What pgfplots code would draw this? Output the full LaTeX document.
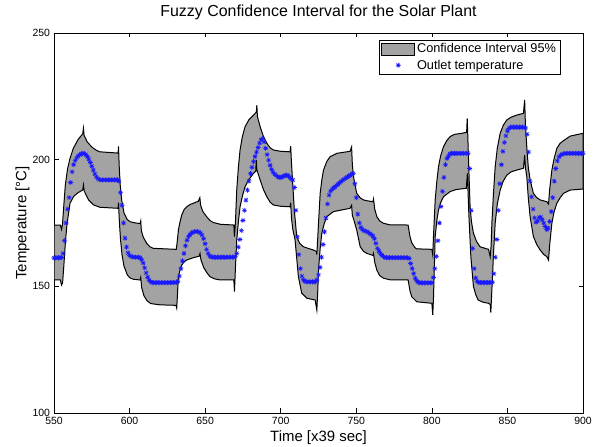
\documentclass[border=0pt]{standalone}
\usepackage{fontspec}
\setmainfont{Liberation Sans}
\usepackage{pgfplots}
\usepackage{pgfplotstable}
\pgfplotsset{compat=1.18}
\usepgfplotslibrary{fillbetween}
\definecolor{bandgray}{gray}{0.64}
\definecolor{starblue}{rgb}{0.1,0.1,1}
\pgfdeclareplotmark{mstar}{%
 \pgfpathmoveto{\pgfqpoint{-\pgfplotmarksize}{0pt}}\pgfpathlineto{\pgfqpoint{\pgfplotmarksize}{0pt}}%
 \pgfpathmoveto{\pgfqpoint{0pt}{-\pgfplotmarksize}}\pgfpathlineto{\pgfqpoint{0pt}{\pgfplotmarksize}}%
 \pgfpathmoveto{\pgfqpoint{-.7071\pgfplotmarksize}{-.7071\pgfplotmarksize}}\pgfpathlineto{\pgfqpoint{.7071\pgfplotmarksize}{.7071\pgfplotmarksize}}%
 \pgfpathmoveto{\pgfqpoint{-.7071\pgfplotmarksize}{.7071\pgfplotmarksize}}\pgfpathlineto{\pgfqpoint{.7071\pgfplotmarksize}{-.7071\pgfplotmarksize}}%
 \pgfusepathqstroke}
\pgfplotsset{
  bandlegend/.style={legend image code/.code={\draw[fill=bandgray, draw=black, line width=0.6bp] (0bp,-6bp) rectangle (33bp,6bp);}},
  starlegend/.style={legend image code/.code={\draw[mark repeat=2, mark phase=2, ##1] plot coordinates {(0bp,0bp) (16.5bp,0bp) (33bp,0bp)};}},
}

\pgfplotstableread{
t v
550 174.2
554.2 174.2
555.0 172.5
555.6 174.5
556.5 182
557.5 190
559 196.5
560.6 200.5
562.8 204.5
566 208
569.0 210.2
569.5 212.4
569.9 209.6
572 207
575 205
578 203.7
580.4 203.1
592.4 202.6
592.7 205.2
593.1 198
593.8 190
594.8 184
596.3 179
598.3 176.5
600.3 175.5
604 175
607.0 174.8
607.4 175.8
607.8 172
609 169.5
611.3 167
613.5 165.6
615.7 165
630.9 164.6
631.6 168
632.3 172.2
633.4 175.5
634.5 178.1
636 180.2
637.8 181.4
640 182.3
642.2 182.8
645.5 183.6
646.5 185
647.0 182
648.5 179.5
651.0 177.5
653.2 176
655.4 175.2
660 174.5
669.0 174.2
669.4 169.6
670.1 176
670.9 188
672 197
673.1 203.8
674.6 209
676.4 213
679 215.8
682.0 217.6
683.9 218.8
684.2 221.5
684.6 217
686.4 213
688.5 209.3
690.8 206.5
693 204.7
695.2 203.8
700 203.3
706.2 203.1
706.6 205.3
707.1 199
708 190
709 180
710.6 169.6
712.5 167
715.1 165.6
721.7 164.3
723.6 163.8
723.9 162.5
724.4 168
725.0 174.9
726.1 186.7
727.2 192
728.3 195.9
730.5 199.3
732.7 201.2
737.1 202.5
745.9 203.3
746.9 205
747.4 198
748.1 193.5
749.2 190
750.3 186.7
752.6 184.9
754.8 184.1
757.0 183.8
761.0 183.4
761.4 184.5
762.2 180.5
763.6 177.5
765.5 175.8
768.0 174.9
772 174.3
784.3 174.2
785.0 171.5
785.6 169.5
786.7 167.2
788.9 165.2
790.0 164.8
800.0 164.6
800.6 162.4
801.1 170
802.2 184.1
803.3 191.5
804.4 197.2
805.8 201.5
807.7 205.1
809.8 207.5
812.1 209.1
815 210
819.8 210.4
823.0 210.8
823.4 216.3
823.8 209
824.2 201
825.3 181.4
826.2 175.5
827.5 171
829.5 167.8
831.9 165.6
837.5 164.6
838.6 161.7
839.2 166
839.7 174.9
840.8 187
841.9 197.2
843.3 204.5
845.2 210.4
847.2 213.5
849.6 215.7
852.5 216.8
856.2 217.6
860.6 218.3
861.4 223.6
861.9 214
862.8 205.1
863.8 197
865.0 192
867.2 186.7
869.4 185
871.7 184.1
876.1 183.4
877.2 182.5
877.9 188
879.4 195.9
880.9 200.5
882.7 204.5
884.9 206.5
887.1 207.5
891.5 209.3
900 210.4
}\uppertab

\pgfplotstableread{
t v
550 152.5
554.2 152.5
555.0 150.5
555.7 151.5
556.5 158
557.5 167
558.5 174
560.6 182.8
563 185.5
566 187
569.0 188
569.5 190
570 187.6
573 184
576 182.2
580.4 181.2
592.4 180.8
592.7 183
593.2 176
594 168.5
595 162.5
596.3 158
598.5 154.5
600.3 153.3
602.5 152.8
607.0 152.5
607.4 153.5
608 149.5
609.5 146.3
611.5 144.3
614 143.2
620 142.7
630.7 142.5
631.2 141.4
631.8 148
632.3 153.8
633.4 156.5
634.5 158.4
636 159.6
637.8 160.4
642.2 161.3
646.0 161.9
646.6 163
647.2 160.5
649 157.5
651.0 155.5
653.2 153.8
656 153
659.9 152.5
669.0 152.5
669.4 147.9
670.1 158
670.9 168.3
672 175.5
673.1 181.4
674.8 186
676.4 189.3
679 192.2
682.0 194.6
683.5 195.5
683.8 199.9
684.2 196
686.4 192
688.5 188.3
690.8 185.4
693 183.2
695.2 182.1
700 181.6
706.2 181.4
706.6 183
707.1 177
708 172.5
709.5 168.3
710.6 161
711.7 153.8
713.9 147.3
717.3 145.3
722.8 144.6
723.9 140.6
724.5 148
725.0 156.4
726.1 165
727.2 171
728.8 174.8
730.5 177.5
734.9 179.5
745.9 180.8
746.9 182
747.4 178
748.5 176
750.3 172.2
752.6 165.6
754.8 163.8
757.0 163
761.0 162.2
761.4 163
762.2 159.5
763.6 156.4
765.5 154.2
768.0 153.2
772 152.6
784.3 152.5
785.0 150
785.6 148
786.7 145.9
790.0 143.9
800.0 143.3
800.6 138.7
801.1 145.9
802.2 169.6
803.3 176
804.4 180.1
805.8 183
807.7 185.4
812.1 187.4
816 188.2
822.8 188.7
823.5 194.6
823.9 188
824.5 178
825.3 168
825.8 161.7
827.5 150
829 146.8
830.6 144.6
834 143.7
837.5 143.3
838.6 142.8
839.0 139.6
839.7 148.5
840.8 163
841.9 174.9
843.3 182.5
845.2 188
847.2 191.5
849.6 193.9
852.5 195.2
856.2 195.9
860.6 196.6
861.4 201.8
861.9 197
862.8 193.3
863.8 185
865.0 177.5
867.2 169.6
869.4 166.5
871.7 164.3
874 162.6
876.1 161.7
877.2 160.4
877.9 166
879.4 174.9
880.9 179.5
882.7 182.8
884.9 185
887.1 186.7
891.5 188
900 188.4
}\lowertab

\pgfplotstableread{
t v
550 161.2
551 161.2
552 161.3
553 161.2
554 161.3
555 161.4
556 163
557 168
558 175
559 180.5
560 185
561 191
562 195.2
563 198
564 199.6
565 200.7
566 201.4
567 201.9
568 202.3
569 202.5
570 202.4
571 202
572 201.2
573 200.2
574 198.9
575 197.4
576 195.9
577 194.4
578 193.2
579 192.5
580 192.1
581 192
582 192
583 192
584 192
585 192
586 192
587 192
588 192
589 192
590 192
591 192
592 192
593 191.5
594 187
595 182
596 175
597 169
598 165.5
599 163.2
600 162.2
601 161.8
602 161.6
603 161.5
604 161.5
605 161.5
606 161.5
607 161.3
608 160.5
609 159.2
610 157.3
611 155.3
612 153.6
613 152.4
614 151.8
615 151.5
616 151.5
617 151.4
618 151.5
619 151.5
620 151.4
621 151.5
622 151.5
623 151.4
624 151.5
625 151.5
626 151.4
627 151.5
628 151.5
629 151.5
630 151.5
631 151.6
632 152
633 154
634 157
635 160
636 163
637 166
638 168.2
639 169.6
640 170.4
641 171
642 171.4
643 171.6
644 171.7
645 171.6
646 171.4
647 171
648 170.2
649 168.8
650 166.8
651 164.6
652 163
653 162
654 161.6
655 161.5
656 161.5
657 161.4
658 161.5
659 161.5
660 161.4
661 161.5
662 161.5
663 161.4
664 161.5
665 161.5
666 161.5
667 161.5
668 161.5
669 161.5
670 161.8
671 163
672 165.5
673 168.5
674 172
675 176
676 180
677 184
678 188
679 191.5
680 194.5
681 197
682 199.2
683 201.2
684 203
685 204.8
686 206.5
687 207.8
688 208.3
689 207
690 204.5
691 202
692 199.8
693 197.8
694 196.2
695 195
696 194.3
697 193.8
698 193.3
699 193
700 193
701 193.2
702 193.5
703 193.8
704 193.9
705 193.6
706 193
707 192.3
708 192
709 189
710 180
711 169.5
712 162.5
713 157
714 154
715 152.6
716 152
717 151.8
718 151.8
719 151.8
720 151.8
721 151.8
722 151.8
723 151.8
724 152.5
725 154.5
726 157.5
727 161.5
728 166.5
729 171.5
730 177
731 182.5
732 186
733 187.6
734 188.3
735 188.8
736 189.3
737 189.8
738 190.3
739 190.9
740 191.4
741 191.9
742 192.3
743 192.7
744 193.1
745 193.5
746 193.9
747 194.3
748 194.6
749 190.5
750 185
751 178.5
752 175
753 173.3
754 172.5
755 172
756 171.8
757 171.6
758 171.2
759 170.8
760 170.4
761 169.8
762 168.8
763 167
764 165
765 163.9
766 163
767 162.2
768 161.7
769 161.4
770 161.3
771 161.3
772 161.3
773 161.3
774 161.3
775 161.3
776 161.3
777 161.3
778 161.3
779 161.3
780 161.3
781 161.3
782 161.3
783 161.3
784 161.3
785 161
786 159
787 157
788 155
789 153.2
790 152.2
791 151.6
792 151.4
793 151.4
794 151.4
795 151.4
796 151.4
797 151.4
798 151.4
799 151.4
800 151.4
801 153.5
802 157
803 161.8
804 168
805 175
806 181.5
807 187.5
808 193
809 198
810 200.5
811 201.4
812 202.3
813 202.5
814 202.5
815 202.5
816 202.5
817 202.5
818 202.5
819 202.5
820 202.5
821 202.5
822 202.5
823 202.5
824 202.5
825 196.5
826 180
827 165
828 157
829 153.3
830 152
831 151.5
832 151.5
833 151.5
834 151.5
835 151.5
836 151.5
837 151.5
838 151.5
839 151.5
840 151.6
841 155
842 161.5
843 168.5
844 180
845 190.5
846 198
847 203.3
848 206.8
849 209.4
850 211.3
851 212.3
852 212.8
853 212.8
854 212.8
855 212.8
856 212.8
857 212.8
858 212.8
859 212.8
860 212.8
861 212.8
862 212.5
863 210
864 203
865 191.5
866 185.3
867 180.5
868 177
869 175.3
870 175.8
871 177.2
872 177.3
873 176.3
874 175
875 173.6
876 172.4
877 173
878 175.6
879 179.5
880 185
881 191.5
882 196.5
883 199.5
884 201
885 201.7
886 202.1
887 202.3
888 202.5
889 202.5
890 202.5
891 202.5
892 202.5
893 202.5
894 202.5
895 202.5
896 202.5
897 202.5
898 202.5
899 202.5
900 202.5
}\outlettab

\begin{document}
\begin{tikzpicture}
\begin{axis}[
  scale only axis,
  width=529bp, height=380bp,
  xmin=550, xmax=900, ymin=100, ymax=250,
  xtick={550,600,650,700,750,800,850,900},
  ytick={100,150,200,250},
  tick align=inside,
  xtick pos=both, ytick pos=both,
  major tick length=4.5bp,
  axis line style={line width=0.7bp},
  every tick/.style={black, line width=0.6bp},
  /pgf/number format/assume math mode=true,
  /pgf/number format/1000 sep={},
  tick label style={font=\fontsize{10.5}{12}\selectfont},
  xticklabel style={yshift=-1bp},
  yticklabel style={xshift=-0.5bp},
  title={Fuzzy Confidence Interval for the Solar Plant},
  title style={at={(axis description cs:0.5,1.0271)}, anchor=base, font=\fontsize{16}{19}\selectfont},
  xlabel={Time [x39 sec]},
  xlabel style={at={(axis description cs:0.5,-0.0737)}, anchor=base, font=\fontsize{15}{18}\selectfont},
  ylabel={Temperature [°C]},
  ylabel style={at={(axis description cs:-0.052,0.5)}, anchor=base, font=\fontsize{15}{18}\selectfont},
  legend cell align=left,
  legend style={at={(axis description cs:0.958,0.982)}, anchor=north east,
    font=\fontsize{12.8}{14}\selectfont, draw=black, line width=0.6bp,
    inner xsep=2.5bp, inner ysep=1.5bp, row sep=1.5bp},
]
\addplot[name path=U, draw=none, forget plot] table[x=t, y=v] {\uppertab};
\addplot[name path=L, draw=none, forget plot] table[x=t, y=v] {\lowertab};
\addplot[fill=bandgray, draw=black, line width=1bp, bandlegend]
  fill between[of=U and L];
\addlegendentry{Confidence Interval 95\%}
\addplot[only marks, mark=mstar, mark size=2.5bp, color=starblue, mark options={line width=0.6bp}, starlegend]
  table[x=t, y=v] {\outlettab};
\addlegendentry{Outlet temperature}
\end{axis}
\pgfresetboundingbox
\path ([shift={(-54bp,-34bp)}]current axis.south west) rectangle ([shift={(14bp,33bp)}]current axis.north east);
\end{tikzpicture}
\end{document}
